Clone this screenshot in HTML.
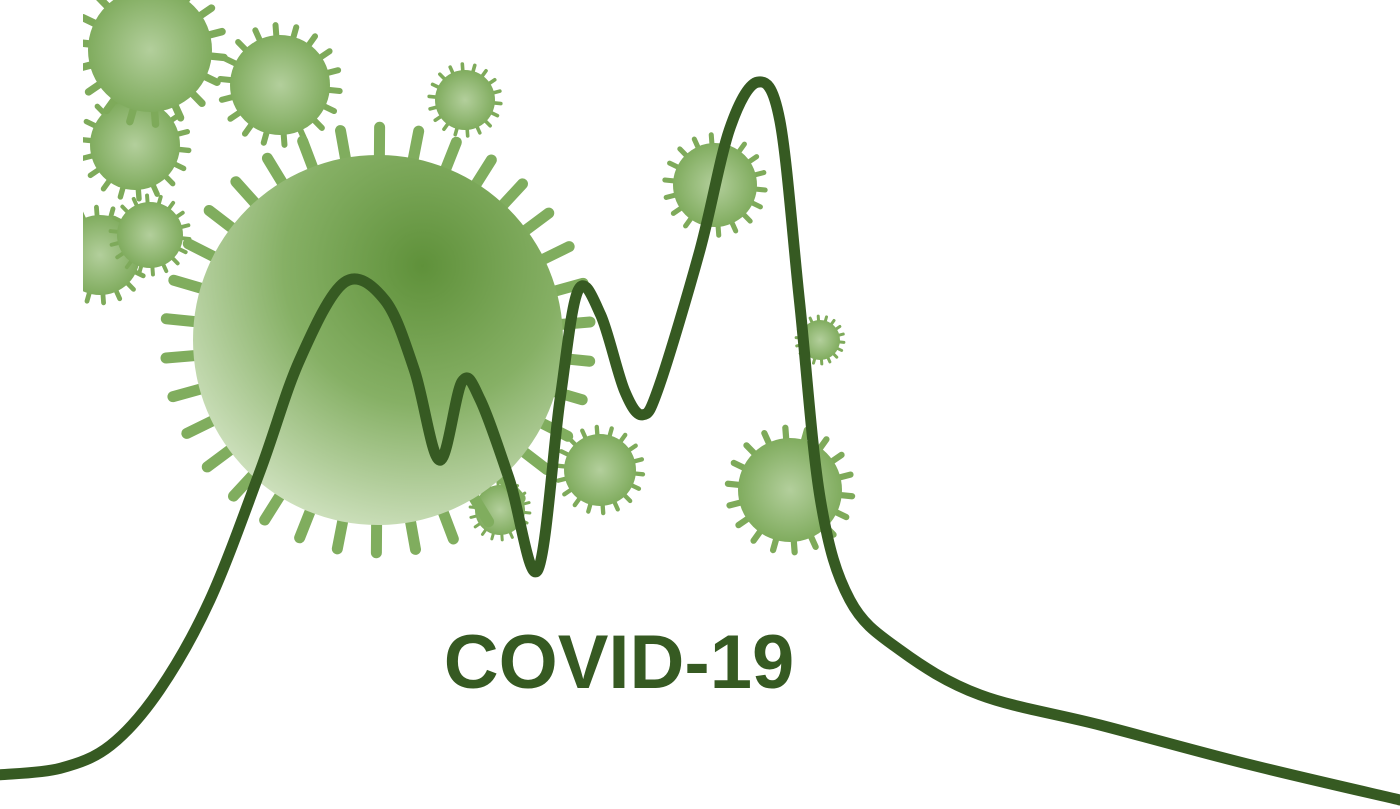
<!DOCTYPE html>
<html><head><meta charset="utf-8"><style>
html,body{margin:0;padding:0;background:#fff;}
svg{display:block;}
</style></head><body>
<svg id="chart" width="1400" height="809" viewBox="0 0 1400 809" xmlns="http://www.w3.org/2000/svg">
<defs>
<radialGradient id="gBig" cx="0.62" cy="0.3" r="0.75">
<stop offset="0" stop-color="#5f913a"/><stop offset="0.5" stop-color="#86b065"/><stop offset="1" stop-color="#d0e2c0"/>
</radialGradient>
<radialGradient id="gSmall" cx="0.5" cy="0.5" r="0.6">
<stop offset="0" stop-color="#b3cf9c"/><stop offset="1" stop-color="#76a552"/>
</radialGradient>
<clipPath id="leftClip"><rect x="83" y="0" width="1317" height="809"/></clipPath>
</defs>
<g id="viruses" clip-path="url(#leftClip)"></g>
<path id="curve" fill="none" stroke="#365a22" stroke-width="11" stroke-linecap="round" stroke-linejoin="round"/>
<text x="619" y="688" text-anchor="middle" font-family="Liberation Sans, sans-serif" font-weight="bold" font-size="76" fill="#365a22">COVID-19</text>
</svg>
<script>
const days = [0, 4.3, 7.9, 11.4, 15, 18.6, 21.4, 24.6, 27.5, 29.6, 31.4, 33, 34.3, 36.4, 38.4, 40, 41.3, 42.9, 44.6, 45.9, 47.1, 50, 52.1, 54.1, 55.7, 57.1, 58.6, 60.7, 64.3, 70, 78.6, 89.3, 100];
const cases = [3.5, 4.4, 7.6, 15.3, 27.8, 45.8, 61.1, 71.9, 69.4, 59.7, 47.2, 58.1, 55.6, 44.4, 31.9, 55.6, 70.8, 67.4, 56.9, 53.5, 57.6, 76.4, 93.1, 99.7, 94.4, 69.4, 41.7, 27.8, 20.8, 14.6, 10.4, 4.9, 0];
const virusX = [378, 150, 280, 135, 150, 100, 465, 715, 820, 600, 790, 500];
const virusY = [340, 50, 85, 145, 235, 255, 100, 185, 340, 470, 490, 510];
const virusR = [185, 62, 50, 45, 33, 40, 30, 42, 20, 36, 52, 25];

const xS = d => d * 14;
const yS = v => 800 - v * 7.2;

const svgNS = "http://www.w3.org/2000/svg";
const vg = document.getElementById('viruses');
for (let i = virusX.length - 1; i >= 0; i--) {
  const g = document.createElementNS(svgNS, 'g');
  
  
  const cx = virusX[i], cy = virusY[i], r = virusR[i];
  const big = i === 0;
  const n = big ? 34 : 18;
  const col = big ? '#80ad5e' : '#7eaa5a';
  for (let k = 0; k < n; k++) {
    const a = k / n * Math.PI * 2 + 0.1;
    const r2 = r * (big ? 1.15 : 1.2);
    const l = document.createElementNS(svgNS, 'line');
    l.setAttribute('x1', cx + Math.cos(a) * r * 0.9);
    l.setAttribute('y1', cy + Math.sin(a) * r * 0.9);
    l.setAttribute('x2', cx + Math.cos(a) * r2);
    l.setAttribute('y2', cy + Math.sin(a) * r2);
    l.setAttribute('stroke', col);
    l.setAttribute('stroke-width', big ? 11 : Math.max(3, r * 0.12));
    l.setAttribute('stroke-linecap', 'round');
    g.appendChild(l);
  }
  const c = document.createElementNS(svgNS, 'circle');
  c.setAttribute('cx', cx); c.setAttribute('cy', cy); c.setAttribute('r', r);
  c.setAttribute('fill', big ? 'url(#gBig)' : 'url(#gSmall)');
  g.appendChild(c);
  vg.appendChild(g);
}

const pts = days.map((d, i) => [xS(d), yS(cases[i])]);
let dStr = `M${pts[0][0]},${pts[0][1]}`;
for (let i = 0; i < pts.length - 1; i++) {
  const p0 = pts[Math.max(0, i - 1)], p1 = pts[i], p2 = pts[i + 1], p3 = pts[Math.min(pts.length - 1, i + 2)];
  const c1 = [p1[0] + (p2[0] - p0[0]) / 6, p1[1] + (p2[1] - p0[1]) / 6];
  const c2 = [p2[0] - (p3[0] - p1[0]) / 6, p2[1] - (p3[1] - p1[1]) / 6];
  dStr += ` C${c1[0]},${c1[1]} ${c2[0]},${c2[1]} ${p2[0]},${p2[1]}`;
}
document.getElementById('curve').setAttribute('d', dStr);
</script>
</body></html>
